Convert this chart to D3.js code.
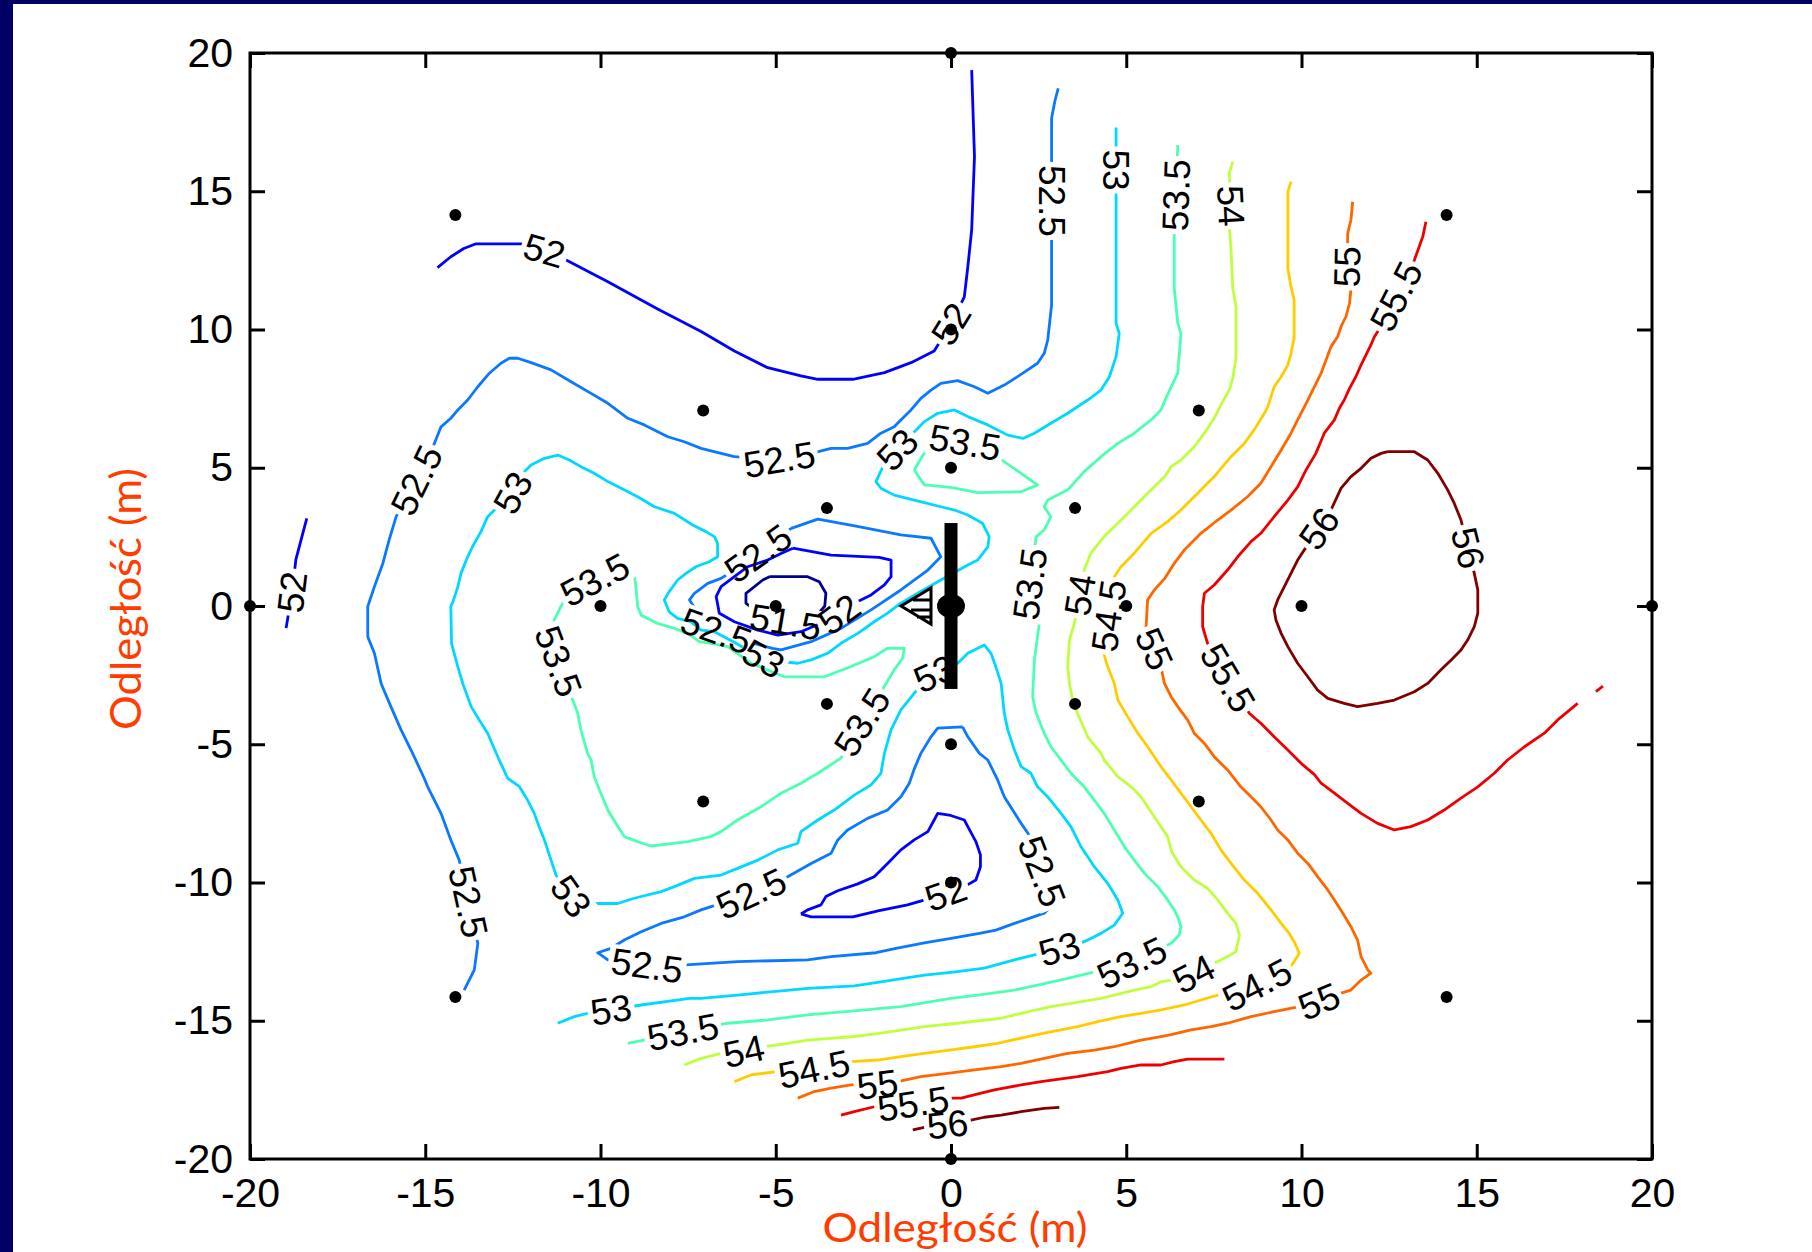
<!DOCTYPE html>
<html>
<head>
<meta charset="utf-8">
<script src="https://cdn.jsdelivr.net/npm/d3@7"></script>
<style>
  body { margin: 0; background: #fff; }
  svg { display: block; }
</style>
</head>
<body>
<div id="container"></div>
<script>
/* CONTOUR LEVELS AND COLOURS (jet-like) */
const levels = [51.5, 52, 52.5, 53, 53.5, 54, 54.5, 55, 55.5, 56];
const levelColors = ["#00008f", "#0000ff", "#0a78ff", "#00d8ff", "#4dffb2",
                     "#bfff40", "#ffcc00", "#ff6600", "#ee0000", "#800000"];

/* CONTOUR LINES, in metres [x, y] */
const c515 = [[-5.18,1.06],[-4.09,1.06],[-3.76,0.88],[-3.57,0.46],[-3.6,0.0],[-3.9,-0.45],[-4.6,-0.6],[-5.3,-0.45],[-5.61,-0.14],[-5.85,0.1],[-5.85,0.46],[-5.37,0.94],[-5.18,1.06]];

const c52a = [[-14.65,12.24],[-14.27,12.63],[-13.9,12.93],[-13.55,13.1],[-12.27,13.1],[-11.6,12.85],[-10.98,12.51],[-9.79,11.73],[-8.37,10.74],[-7.13,9.93],[-6.18,9.22],[-5.23,8.62],[-4.28,8.32],[-3.8,8.2],[-2.8,8.2],[-1.9,8.44],[-1.14,8.8],[-0.48,9.22],[0.0,10.2],[0.38,11.18],[0.48,12.27],[0.59,13.6],[0.67,16.25],[0.59,19.38]];
const c52b = [[-18.38,3.17],[-18.69,1.69],[-18.8,0.5],[-18.97,-0.8]];
const c52c = [[-4.51,2.09],[-3.42,1.84],[-2.05,1.76],[-1.71,1.66],[-1.71,1.06],[-1.90,0.76],[-2.28,0.40],[-2.76,0.10],[-3.3,-0.4],[-4.28,-0.93],[-4.94,-1.05],[-5.51,-0.87],[-6.18,-0.57],[-6.61,-0.26],[-6.70,0.34],[-6.56,0.70],[-5.80,1.42],[-5.23,1.66],[-4.85,1.90],[-4.51,2.09]];
const c52d = [[-4.28,-11.14],[-3.99,-11.24],[-2.8,-11.24],[-2.05,-11.02],[-1.24,-10.81],[-0.4,-10.5],[0.38,-10.15],[0.71,-9.91],[0.84,-9.43],[0.84,-9.0],[0.71,-8.52],[0.48,-7.98],[0.38,-7.74],[-0.05,-7.56],[-0.38,-7.50],[-0.48,-7.74],[-0.66,-8.16],[-1.05,-8.46],[-1.43,-8.82],[-1.81,-9.31],[-2.19,-9.79],[-2.66,-10.05],[-3.23,-10.30],[-3.57,-10.51],[-3.71,-10.81],[-4.09,-10.99],[-4.28,-11.14]];

const c525a = [[3.06,18.72],[2.97,18.3],[2.87,17.64],[2.87,16.07],[2.87,13.24],[2.87,10.89],[2.76,9.62],[2.66,9.14],[2.47,8.78],[2.05,8.42],[1.52,7.99],[1.05,7.69],[0.67,7.93],[0.19,8.15],[-0.29,8.05],[-0.57,7.81],[-0.86,7.51],[-1.14,7.09],[-1.43,6.73],[-1.62,6.48],[-2.0,6.25],[-2.38,5.88],[-2.95,5.70],[-3.42,5.70],[-4.2,5.45],[-4.9,5.3],[-5.6,5.35],[-6.18,5.40],[-6.56,5.52],[-7.13,5.70],[-7.61,5.94],[-8.08,6.12],[-8.75,6.55],[-9.22,6.79],[-9.79,7.33],[-10.27,7.69],[-10.84,8.11],[-11.41,8.54],[-11.98,8.80],[-12.36,8.96],[-12.6,8.96],[-12.84,8.78],[-13.17,8.42],[-13.50,7.93],[-13.79,7.45],[-14.07,7.09],[-14.27,6.79],[-14.55,6.48],[-14.74,5.88],[-15.25,4.55],[-15.83,3.23],[-16.03,2.39],[-16.21,1.54],[-16.45,0.70],[-16.64,-0.02],[-16.64,-1.11],[-16.45,-1.71],[-16.26,-2.80],[-15.98,-3.64],[-15.69,-4.48],[-15.36,-5.33],[-15.03,-6.23],[-14.93,-6.54],[-14.55,-7.5],[-14.27,-8.46],[-14.03,-9.19],[-13.77,-10.7],[-13.50,-12.2],[-13.6,-13.16],[-13.89,-13.89]];
const c525b = [[0.33,-4.37],[-0.38,-4.42],[-0.57,-4.73],[-0.86,-5.33],[-1.05,-5.9],[-1.19,-6.41],[-1.43,-6.9],[-1.81,-7.38],[-2.38,-7.68],[-2.95,-8.10],[-3.23,-8.46],[-3.42,-8.94],[-3.99,-9.31],[-4.66,-9.79],[-5.7,-10.4],[-7.13,-10.99],[-7.61,-11.24],[-8.27,-11.48],[-8.84,-11.78],[-9.32,-12.08],[-9.70,-12.38],[-10.08,-12.54],[-9.79,-12.80],[-8.67,-13.0],[-7.56,-12.98],[-6.09,-12.86],[-4.09,-12.80],[-3.42,-12.68],[-2.14,-12.54],[-1.57,-12.38],[-0.76,-12.18],[0,-12.02],[0.81,-11.84],[1.28,-11.72],[1.81,-11.48],[2.23,-11.30],[2.66,-11.11],[2.95,-10.75],[2.6,-9.6],[2.23,-8.28],[2.0,-7.86],[1.76,-7.38],[1.52,-6.9],[1.33,-6.29],[1.05,-5.57],[0.81,-5.33],[0.48,-4.73],[0.33,-4.37]];
const c525c = [[-4.56,2.81],[-3.8,3.14],[-2.71,2.89],[-1.43,2.57],[-0.57,2.45],[-0.29,1.78],[-0.66,1.30],[-1.43,0.58],[-2.28,-0.14],[-3.14,-0.81],[-3.99,-1.29],[-4.85,-1.59],[-5.09,-1.53],[-5.8,-1.3],[-6.7,-0.9],[-7.2,-0.3],[-7.46,0.22],[-7.32,0.46],[-6.94,0.82],[-6.56,1.0],[-6.0,1.45],[-5.5,1.9],[-4.95,2.45],[-4.56,2.81]];

const c53 = [[4.71,17.31],[4.71,15.05],[4.71,10.22],[4.80,9.86],[4.71,9.02],[4.52,8.29],[4.28,7.81],[3.90,7.45],[3.33,6.97],[2.85,6.61],[2.38,6.25],[2.05,6.06],[1.62,6.18],[1.05,6.55],[0.48,6.85],[0.1,7.09],[-0.38,6.97],[-0.76,6.67],[-1.35,5.9],[-1.90,5.16],[-2.14,4.50],[-2.0,4.26],[-1.62,4.01],[-1.05,3.83],[-0.29,3.59],[0.1,3.47],[0.48,3.29],[0.90,2.99],[1.09,2.51],[1.05,2.14],[0.76,1.66],[0.48,1.48],[-0.29,0.94],[-0.95,0.46],[-1.43,0.1],[-1.81,-0.26],[-2.19,-0.57],[-2.66,-0.99],[-3.14,-1.35],[-3.52,-1.71],[-3.99,-1.95],[-4.37,-2.07],[-5.28,-1.95],[-6.2,-1.3],[-6.75,-0.93],[-7.13,-0.87],[-7.42,-0.57],[-7.80,-0.45],[-8.04,-0.21],[-8.18,0.22],[-8.04,0.52],[-7.80,0.94],[-7.56,1.18],[-7.28,1.42],[-6.90,1.60],[-6.66,1.78],[-6.66,2.27],[-6.75,2.51],[-6.99,2.69],[-7.37,2.93],[-7.89,3.35],[-8.46,3.59],[-8.94,3.95],[-9.41,4.26],[-9.79,4.50],[-10.18,4.80],[-10.56,5.04],[-10.89,5.28],[-11.22,5.46],[-11.60,5.34],[-11.98,5.10],[-12.17,4.86],[-12.5,4.1],[-12.98,3.53],[-13.22,3.23],[-13.41,2.69],[-13.65,2.15],[-13.79,1.78],[-13.98,1.18],[-14.07,0.70],[-14.19,0.22],[-14.27,-0.02],[-14.25,-1.35],[-14.07,-2.20],[-13.93,-2.80],[-13.69,-3.64],[-13.46,-4.12],[-13.22,-4.60],[-12.93,-5.45],[-12.65,-6.23],[-12.32,-6.52],[-12.08,-7.02],[-11.89,-7.50],[-11.75,-7.98],[-11.60,-8.46],[-11.41,-9.19],[-11.27,-9.73],[-10.84,-10.5],[-10.18,-10.76],[-9.51,-10.76],[-9.04,-10.57],[-8.27,-10.33],[-7.89,-10.15],[-7.32,-9.85],[-6.56,-9.73],[-6.09,-9.49],[-5.51,-9.19],[-4.94,-8.82],[-4.37,-8.58],[-4.28,-8.16],[-3.80,-7.74],[-3.33,-7.38],[-2.76,-6.84],[-2.28,-6.47],[-2.0,-6.05],[-1.90,-5.33],[-1.71,-4.48],[-1.43,-3.76],[-1.05,-3.16],[-0.66,-2.56],[0.19,-2.07],[0.48,-1.71],[0.95,-1.41],[1.14,-1.71],[1.28,-2.20],[1.43,-2.80],[1.52,-3.88],[1.62,-4.48],[1.81,-5.21],[2.0,-5.81],[2.28,-6.05],[2.47,-6.54],[2.76,-6.90],[3.14,-7.50],[3.42,-7.98],[3.71,-8.71],[4.09,-9.43],[4.47,-10.03],[4.76,-10.63],[4.90,-11.11],[4.66,-11.54],[4.28,-11.84],[3.80,-12.14],[3.09,-12.4],[2.38,-12.62],[1.81,-12.80],[0.95,-13.10],[0,-13.25],[-0.76,-13.35],[-2.0,-13.59],[-2.76,-13.74],[-4.09,-13.83],[-4.76,-13.91],[-6.09,-14.07],[-7.13,-14.19],[-7.46,-14.19],[-8.84,-14.43],[-9.7,-14.6],[-10.37,-14.73],[-10.75,-14.85],[-11.22,-15.09]];

const c535a = [[6.47,16.67],[6.42,14.86],[6.37,13.48],[6.37,11.49],[6.47,10.22],[6.56,9.86],[6.47,8.42],[6.33,8.05],[6.13,7.51],[5.99,7.09],[5.71,6.73],[5.23,6.25],[4.76,5.88],[4.28,5.40],[3.80,4.86],[3.33,4.20],[2.76,3.83],[2.66,3.59],[2.85,3.23],[2.66,2.75],[2.43,2.51],[2.25,0.8],[2.52,-0.63],[2.38,-1.95],[2.33,-3.28],[2.43,-3.88],[2.66,-4.60],[2.85,-5.09],[3.14,-5.57],[3.42,-6.05],[3.80,-6.54],[4.09,-7.02],[4.37,-7.50],[4.66,-8.10],[4.95,-8.71],[5.23,-9.19],[5.52,-9.67],[5.90,-10.15],[6.18,-10.63],[6.37,-10.99],[6.47,-11.24],[6.56,-11.6],[6.51,-11.9],[6.28,-12.2],[6.09,-12.32],[5.16,-12.9],[3.95,-13.28],[3.33,-13.47],[2.47,-13.71],[1.81,-13.89],[0.76,-14.07],[0,-14.19],[-1.43,-14.49],[-2.76,-14.64],[-4.09,-14.79],[-5.23,-14.97],[-6.37,-15.09],[-7.65,-15.4],[-9.22,-15.82]];
const c535b = [[-1.05,4.92],[-0.76,4.38],[0,4.29],[0.76,4.10],[2.0,4.13],[2.47,4.38],[2.0,4.80],[1.24,5.46],[0.86,5.82],[0,6.0],[-0.71,5.64],[-1.05,4.92]];
const c535c = [[-10.89,0.46],[-10.16,0.95],[-9.04,1.18],[-8.99,0.70],[-8.94,-0.02],[-8.84,-0.33],[-8.37,-0.63],[-7.89,-0.81],[-7.51,-0.99],[-7.18,-1.29],[-6.85,-1.35],[-6.37,-1.47],[-5.71,-2.07],[-4.76,-2.56],[-3.61,-2.56],[-2.85,-2.19],[-2.19,-1.83],[-1.81,-1.53],[-1.33,-1.53],[-1.38,-1.89],[-1.62,-2.31],[-1.85,-2.80],[-2.54,-4.2],[-3.14,-5.5],[-3.8,-6.05],[-4.28,-6.41],[-4.85,-6.77],[-5.42,-7.26],[-6.09,-7.74],[-6.56,-8.16],[-6.85,-8.34],[-7.51,-8.52],[-8.56,-8.68],[-8.94,-8.52],[-9.32,-8.34],[-9.56,-7.86],[-9.79,-7.38],[-9.99,-6.77],[-10.18,-6.17],[-10.27,-5.57],[-10.37,-5.33],[-10.56,-4.48],[-10.65,-3.88],[-11.2,-2.0],[-11.32,-1.23],[-11.32,-0.51],[-11.13,-0.02],[-10.89,0.46]];

const c54 = [[8.04,16.07],[7.94,15.65],[7.99,14.47],[7.94,13.72],[7.99,12.88],[8.04,11.49],[8.13,10.82],[8.13,8.96],[8.04,8.24],[7.94,7.81],[7.75,7.39],[7.51,6.79],[7.23,6.25],[6.94,5.76],[6.56,5.28],[6.28,5.04],[6.1,4.68],[5.61,4.08],[5.23,3.59],[4.76,2.99],[4.37,2.51],[3.99,1.91],[3.80,1.30],[3.68,0.4],[3.52,-0.63],[3.38,-1.23],[3.33,-2.19],[3.38,-2.80],[3.47,-3.40],[3.61,-3.88],[3.90,-4.73],[4.28,-5.33],[4.37,-5.57],[4.76,-6.17],[5.14,-6.54],[5.42,-6.9],[5.80,-7.62],[6.18,-8.34],[6.3,-8.9],[6.56,-9.43],[6.94,-9.91],[7.32,-10.21],[7.61,-10.63],[7.89,-11.11],[8.13,-11.48],[8.23,-11.9],[8.13,-12.5],[7.89,-12.68],[7.51,-12.92],[6.93,-13.3],[6.28,-13.53],[5.99,-13.59],[5.71,-13.77],[5.23,-13.89],[4.28,-14.19],[3.42,-14.37],[2.85,-14.49],[2.0,-14.73],[1.43,-14.91],[0.19,-15.09],[-0.76,-15.21],[-2.0,-15.45],[-2.76,-15.57],[-4.09,-15.70],[-4.66,-15.82],[-5.33,-15.94],[-5.91,-16.1],[-6.56,-16.18],[-7.13,-16.36],[-7.61,-16.6]];

const c545 = [[9.70,15.35],[9.61,14.98],[9.61,12.21],[9.70,11.55],[9.79,11.07],[9.79,9.68],[9.70,9.14],[9.61,8.72],[9.42,8.29],[9.22,7.93],[9.04,7.21],[8.94,6.97],[8.65,6.37],[8.37,5.88],[7.99,5.40],[7.51,4.68],[7.04,4.08],[6.56,3.47],[6.18,3.05],[5.71,2.63],[5.23,1.91],[4.85,1.42],[4.66,1.06],[4.5,-0.35],[4.37,-1.77],[4.47,-2.19],[4.66,-2.80],[4.76,-3.40],[5.04,-4.0],[5.33,-4.60],[5.61,-5.09],[5.99,-5.81],[6.28,-6.29],[6.56,-6.77],[6.85,-7.26],[7.13,-7.74],[7.42,-8.22],[7.70,-8.82],[7.99,-9.31],[8.37,-9.91],[8.75,-10.39],[9.13,-10.99],[9.42,-11.48],[9.65,-11.84],[9.79,-12.14],[9.94,-12.56],[9.79,-12.86],[9.65,-13.10],[8.73,-13.7],[7.61,-14.07],[7.13,-14.25],[6.66,-14.43],[5.99,-14.61],[5.42,-14.73],[4.85,-14.85],[4.19,-15.03],[3.61,-15.21],[2.66,-15.45],[2.19,-15.57],[1.33,-15.82],[0.67,-15.94],[-0.05,-16.06],[-0.76,-16.18],[-1.43,-16.30],[-2.09,-16.42],[-2.85,-16.48],[-3.91,-16.75],[-4.99,-16.84],[-5.71,-16.96],[-6.18,-17.2]];

const c55 = [[11.46,14.62],[11.41,13.96],[11.32,13.48],[11.3,12.27],[11.41,11.43],[11.37,10.95],[11.27,10.47],[11.13,10.11],[11.03,9.74],[10.84,9.38],[10.70,8.90],[10.56,8.42],[10.37,7.93],[10.18,7.45],[9.89,6.73],[9.70,6.25],[9.42,5.64],[9.13,5.04],[8.84,4.44],[8.46,3.95],[7.99,3.47],[7.61,3.11],[7.13,2.63],[6.66,2.03],[6.37,1.54],[6.1,1.0],[5.80,0.58],[5.61,0.22],[5.56,-0.87],[5.8,-1.55],[5.99,-2.19],[6.09,-2.80],[6.28,-3.28],[6.47,-3.64],[6.75,-4.12],[6.94,-4.60],[7.23,-4.97],[7.51,-5.45],[7.89,-5.93],[8.27,-6.54],[8.56,-6.9],[8.84,-7.26],[9.13,-7.74],[9.32,-8.10],[9.61,-8.46],[9.89,-8.94],[10.18,-9.31],[10.46,-9.79],[10.75,-10.27],[10.94,-10.63],[11.18,-11.11],[11.41,-11.60],[11.60,-12.08],[11.70,-12.68],[11.89,-13.16],[11.98,-13.28],[11.70,-13.53],[11.41,-13.89],[10.94,-14.07],[10.5,-14.3],[9.94,-14.49],[9.22,-14.67],[8.56,-14.85],[7.89,-15.09],[7.42,-15.21],[6.85,-15.33],[6.28,-15.50],[5.99,-15.57],[5.42,-15.70],[4.66,-15.94],[4.09,-16.06],[3.33,-16.18],[2.66,-16.36],[2.0,-16.54],[1.43,-16.66],[0.67,-16.78],[-0.10,-16.90],[-0.86,-17.02],[-1.52,-17.20],[-2.1,-17.3],[-2.85,-17.32],[-3.42,-17.44],[-3.90,-17.56],[-4.37,-17.8]];

const c555a = [[13.55,13.90],[13.46,13.36],[13.36,13.0],[13.22,12.51],[12.7,11.2],[12.17,9.92],[12.08,9.74],[11.98,9.44],[11.84,9.08],[11.70,8.72],[11.55,8.29],[11.37,7.87],[11.22,7.45],[11.08,7.15],[10.94,6.73],[10.65,6.25],[10.41,5.52],[10.13,4.92],[9.89,4.31],[9.61,3.83],[9.22,3.23],[8.84,2.63],[8.56,2.33],[8.18,1.78],[7.89,1.30],[7.51,0.76],[7.23,0.46],[7.18,-0.02],[7.18,-0.75],[7.32,-1.35],[7.9,-2.6],[8.51,-3.88],[8.84,-4.24],[9.22,-4.73],[9.61,-5.21],[9.99,-5.69],[10.37,-6.1],[10.56,-6.41],[10.94,-6.77],[11.32,-7.14],[11.70,-7.5],[12.17,-7.86],[12.65,-8.10],[13.12,-7.98],[13.60,-7.74],[14.07,-7.38],[14.55,-6.95],[15.03,-6.54],[15.50,-6.05],[15.88,-5.57],[16.36,-5.09],[16.93,-4.60],[17.31,-4.12],[17.88,-3.52]];
const c555b = [[18.4,-3.1],[18.6,-2.9]];
const c555c = [[7.80,-16.39],[6.75,-16.39],[6.37,-16.48],[5.99,-16.6],[5.42,-16.6],[4.85,-16.72],[4.47,-16.84],[3.61,-17.02],[2.57,-17.20],[2.0,-17.32],[1.24,-17.50],[0.86,-17.62],[0.29,-17.80],[0,-17.8],[-1.08,-18.0],[-2.19,-18.11],[-2.76,-18.29],[-3.14,-18.41]];

const c56a = [[12.46,5.58],[13.22,5.58],[13.60,5.28],[13.89,4.80],[14.17,4.20],[14.36,3.71],[14.55,3.11],[14.75,2.1],[14.93,1.18],[15.03,0.58],[15.03,-0.26],[14.93,-0.75],[14.74,-1.23],[14.55,-1.59],[14.27,-1.95],[13.98,-2.31],[13.60,-2.80],[13.22,-3.10],[12.65,-3.40],[12.17,-3.52],[11.60,-3.64],[11.22,-3.52],[10.75,-3.34],[10.46,-3.04],[10.18,-2.56],[9.89,-2.07],[9.61,-1.47],[9.42,-0.99],[9.27,-0.51],[9.22,-0.14],[9.32,0.22],[9.51,0.70],[9.70,1.18],[9.89,1.66],[10.08,2.03],[10.5,2.8],[10.84,3.47],[11.13,4.26],[11.41,4.68],[11.70,4.98],[11.98,5.34],[12.27,5.52],[12.46,5.58]];
const c56b = [[-1.09,-18.95],[-0.66,-18.83],[-0.1,-18.75],[0.57,-18.59],[0.95,-18.49],[1.43,-18.41],[2.0,-18.29],[2.66,-18.17],[3.09,-18.13]];

/* INLINE LABELS: [level, x, y] */
const contourLabels = [
  [52,-11.6,12.85],[52,0.0,10.2],[52,-18.8,0.5],[52,-3.1,-0.45],[52,-0.1,-10.55],
  [51.5,-4.7,-0.45],
  [52.5,2.87,14.65],[52.5,-4.9,5.3],[52.5,-15.25,4.55],[52.5,-13.77,-10.7],[52.5,-5.7,-10.4],
  [52.5,-8.67,-13.0],[52.5,2.6,-9.6],[52.5,-5.5,1.9],[52.5,-6.7,-0.9],
  [53,4.71,15.77],[53,-1.4,5.5],[53,-12.5,4.1],[53,-10.84,-10.5],[53,3.09,-12.4],
  [53,-9.7,-14.6],[53,-5.28,-1.75],[53,-0.45,-2.5],
  [53.5,6.42,14.86],[53.5,0.4,5.9],[53.5,2.25,0.8],[53.5,5.16,-12.9],[53.5,-7.65,-15.4],
  [53.5,-10.16,0.95],[53.5,-11.2,-2.0],[53.5,-2.54,-4.2],
  [54,7.99,14.47],[54,3.68,0.4],[54,6.93,-13.3],[54,-5.91,-16.1],
  [54.5,4.5,-0.35],[54.5,8.73,-13.7],[54.5,-3.91,-16.75],
  [55,11.3,12.27],[55,5.8,-1.55],[55,10.5,-14.3],[55,-2.1,-17.3],
  [55.5,12.7,11.2],[55.5,7.9,-2.6],[55.5,-1.08,-18.0],
  [56,10.5,2.8],[56,14.75,2.1],[56,-0.1,-18.75]
];

/* MEASUREMENT POINTS */
const measX = [0,-14.14,14.14,0,-7.07,7.07,0,-3.54,3.54,-20,-10,-5,0,5,10,20,-3.54,3.54,0,-7.07,7.07,0,-14.14,14.14,0];
const measY = [20,14.14,14.14,10,7.07,7.07,5,3.54,3.54,0,0,0,0,0,0,0,-3.54,-3.54,-5,-7.07,-7.07,-10,-14.14,-14.14,-20];

/* TURBINE (tower from y=-3 to y=3 at x=0) */
const turbineX = 0, turbineY0 = -3, turbineY1 = 3;

const tickVals = [-20, -15, -10, -5, 0, 5, 10, 15, 20];
const axisTitle = "Odległość (m)";

const contourLines = [
  {level: 51.5, pts: c515},
  {level: 52, pts: c52a}, {level: 52, pts: c52b}, {level: 52, pts: c52c}, {level: 52, pts: c52d},
  {level: 52.5, pts: c525a}, {level: 52.5, pts: c525b}, {level: 52.5, pts: c525c},
  {level: 53, pts: c53},
  {level: 53.5, pts: c535a}, {level: 53.5, pts: c535b}, {level: 53.5, pts: c535c},
  {level: 54, pts: c54},
  {level: 54.5, pts: c545},
  {level: 55, pts: c55},
  {level: 55.5, pts: c555a}, {level: 55.5, pts: c555b}, {level: 55.5, pts: c555c},
  {level: 56, pts: c56a}, {level: 56, pts: c56b}
];

/* LAYOUT */
const W = 1812, H = 1252;
const x = d3.scaleLinear().domain([-20, 20]).range([250, 1652]);
const y = d3.scaleLinear().domain([-20, 20]).range([1159, 53]);
const color = d3.scaleOrdinal().domain(levels).range(levelColors);

const svg = d3.select("#container").append("svg")
  .attr("width", W).attr("height", H)
  .style("background", "#fff");

// navy slide edges
svg.append("rect").attr("x", 0).attr("y", 0).attr("width", 13).attr("height", H).attr("fill", "#000064");
svg.append("rect").attr("x", 0).attr("y", 0).attr("width", W).attr("height", 4).attr("fill", "#000064");

const defs = svg.append("defs");
levels.forEach((lv, i) => {
  const m = defs.append("mask").attr("id", "mask" + i)
    .attr("maskUnits", "userSpaceOnUse")
    .attr("x", 0).attr("y", 0).attr("width", W).attr("height", H);
  m.append("rect").attr("width", W).attr("height", H).attr("fill", "#fff");
});

/* CONTOURS */
const line = d3.line().x(d => x(d[0])).y(d => y(d[1]));
levels.forEach((lv, i) => {
  svg.append("g")
    .attr("mask", `url(#mask${i})`)
    .selectAll("path")
    .data(contourLines.filter(c => c.level === lv))
    .join("path")
    .attr("d", d => line(d.pts))
    .attr("fill", "none")
    .attr("stroke", color(lv))
    .attr("stroke-width", 2.8)
    .attr("stroke-linejoin", "round");
});

// snap a label onto its line and find the line direction there
function placeLabel(lv, lx, ly) {
  const P = [x(lx), y(ly)];
  let best = null;
  contourLines.filter(c => c.level === lv).forEach(c => {
    for (let i = 0; i < c.pts.length - 1; i++) {
      const a = [x(c.pts[i][0]), y(c.pts[i][1])];
      const b = [x(c.pts[i + 1][0]), y(c.pts[i + 1][1])];
      const dx = b[0] - a[0], dy = b[1] - a[1];
      const L2 = dx * dx + dy * dy || 1;
      let t = ((P[0] - a[0]) * dx + (P[1] - a[1]) * dy) / L2;
      t = Math.max(0, Math.min(1, t));
      const q = [a[0] + t * dx, a[1] + t * dy];
      const dist = Math.hypot(q[0] - P[0], q[1] - P[1]);
      if (!best || dist < best.dist) {
        let ang = Math.atan2(dy, dx) * 180 / Math.PI;
        if (ang > 90) ang -= 180;
        if (ang <= -90) ang += 180;
        best = {dist, q, ang};
      }
    }
  });
  return best;
}

/* LABELS */
const labelSize = 37;
const labelG = svg.append("g");
contourLabels.forEach(([lv, lx, ly]) => {
  const p = placeLabel(lv, lx, ly);
  const tf = `translate(${p.q[0]},${p.q[1]}) rotate(${p.ang})`;
  const t = labelG.append("text")
    .attr("transform", tf)
    .attr("text-anchor", "middle")
    .attr("dy", "0.35em")
    .attr("font-family", "'Liberation Sans', Arial, sans-serif")
    .attr("font-size", labelSize)
    .attr("fill", "#000")
    .text(String(lv));
  const bb = t.node().getBBox();
  d3.select("#mask" + levels.indexOf(lv)).append("rect")
    .attr("transform", tf)
    .attr("x", bb.x - 3).attr("width", bb.width + 6)
    .attr("y", -0.45 * labelSize).attr("height", 0.9 * labelSize)
    .attr("fill", "#000");
});

/* MEASUREMENT POINTS */
svg.append("g").selectAll("circle")
  .data(measX.map((d, i) => [d, measY[i]]))
  .join("circle")
  .attr("cx", d => x(d[0]))
  .attr("cy", d => y(d[1]))
  .attr("r", 6)
  .attr("fill", "#000");

/* TURBINE SYMBOL */
const tg = svg.append("g");
tg.append("rect")
  .attr("x", x(turbineX) - 6.5).attr("y", y(turbineY1))
  .attr("width", 13).attr("height", y(turbineY0) - y(turbineY1))
  .attr("fill", "#000");
tg.append("ellipse")
  .attr("cx", x(turbineX)).attr("cy", y(0))
  .attr("rx", 14).attr("ry", 12).attr("fill", "#000");
const hx = x(turbineX), hy = y(0);
tg.append("path")
  .attr("d", `M${hx - 50},${hy} L${hx - 20},${hy - 18} L${hx - 20},${hy + 18} Z M${hx - 38},${hy - 6} H${hx - 20} M${hx - 40},${hy + 4} H${hx - 20} M${hx - 34},${hy + 11} H${hx - 20}`)
  .attr("fill", "none").attr("stroke", "#000").attr("stroke-width", 3);

/* AXES */
const fmt = d => String(d);
const tickFont = "'Liberation Sans', Arial, sans-serif";
function styleAxis(g) {
  g.select(".domain").remove();
  g.selectAll(".tick line").attr("stroke", "#000").attr("stroke-width", 3);
  g.selectAll(".tick text").attr("fill", "#000").attr("font-size", 41).attr("font-family", tickFont);
}
svg.append("g").attr("transform", `translate(0,${y(-20)})`)
  .call(d3.axisBottom(x).tickValues(tickVals).tickFormat(fmt).tickSizeInner(-15).tickSizeOuter(0).tickPadding(19))
  .call(styleAxis);
svg.append("g").attr("transform", `translate(0,${y(20)})`)
  .call(d3.axisTop(x).tickValues(tickVals).tickFormat("").tickSizeInner(-15).tickSizeOuter(0))
  .call(styleAxis);
svg.append("g").attr("transform", `translate(${x(-20)},0)`)
  .call(d3.axisLeft(y).tickValues(tickVals).tickFormat(fmt).tickSizeInner(-15).tickSizeOuter(0).tickPadding(17))
  .call(styleAxis);
svg.append("g").attr("transform", `translate(${x(20)},0)`)
  .call(d3.axisRight(y).tickValues(tickVals).tickFormat("").tickSizeInner(-15).tickSizeOuter(0))
  .call(styleAxis);

svg.append("rect")
  .attr("x", x(-20)).attr("y", y(20))
  .attr("width", x(20) - x(-20)).attr("height", y(-20) - y(20))
  .attr("fill", "none").attr("stroke", "#000").attr("stroke-width", 3);

/* AXIS TITLES */
svg.append("text")
  .attr("x", 955).attr("y", 1242)
  .attr("text-anchor", "middle")
  .attr("font-family", "Lato, 'Open Sans', sans-serif")
  .attr("font-size", 40)
  .attr("fill", "#ff3d00")
  .attr("textLength", 265).attr("lengthAdjust", "spacingAndGlyphs")
  .text(axisTitle);
svg.append("text")
  .attr("transform", "translate(141,599) rotate(-90)")
  .attr("text-anchor", "middle")
  .attr("font-family", "Lato, 'Open Sans', sans-serif")
  .attr("font-size", 42)
  .attr("fill", "#ff3d00")
  .attr("textLength", 262).attr("lengthAdjust", "spacingAndGlyphs")
  .text(axisTitle);
</script>
</body>
</html>
